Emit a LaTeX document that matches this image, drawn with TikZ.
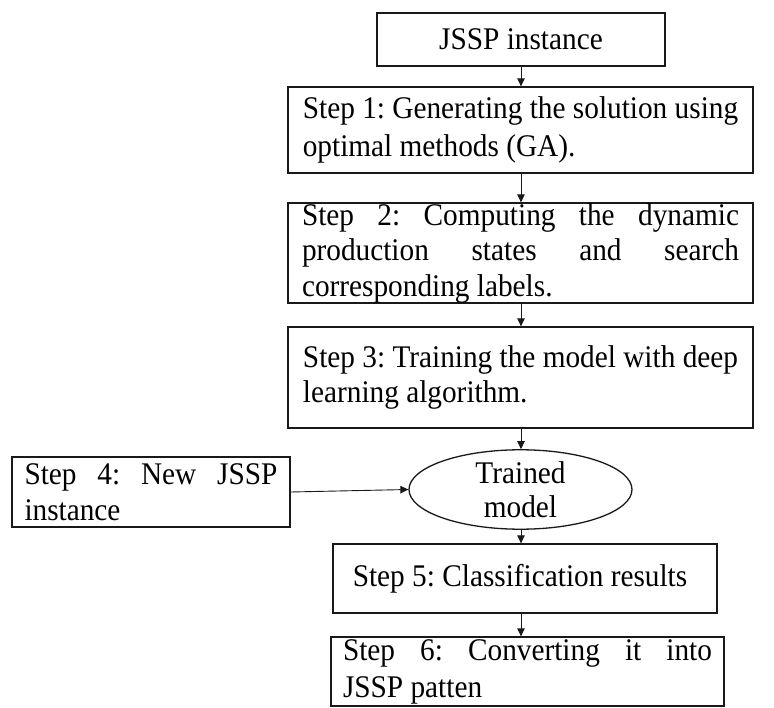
\documentclass[tikz,border=0pt]{standalone}
\usepackage{fontspec}
\setmainfont[FakeStretch=0.93]{Liberation Serif}
\usetikzlibrary{arrows.meta,shapes.geometric}
\frenchspacing
\begin{document}
\begin{tikzpicture}[x=1pt,y=1pt,
  box/.style={draw=black!90, line width=1.3pt, inner xsep=0pt, inner ysep=0pt,
    font=\fontsize{31.5}{36}\selectfont},
  arr/.style={draw=black!90, line width=0.9pt, -{Triangle[length=8pt,width=7.5pt]}}]
\useasboundingbox (0,0) rectangle (774,-708);
\fill[white] (0,0) rectangle (774,-708);
\coordinate (X) at (521,0);

\node[box, minimum width=288, minimum height=53] (jssp) at (521,-39.5) {JSSP instance};

\node[box, minimum width=465, minimum height=86, align=left,
  font=\fontsize{31.5}{38}\selectfont] (s1) at (520.5,-130)
  {Step 1: Generating the solution using\\optimal methods (GA).};

\node[box, minimum width=465, minimum height=100, align=left,
  font=\fontsize{31.5}{35.5}\selectfont] (s2) at (520.5,-253)
  {\makebox[437pt][s]{Step 2: Computing the dynamic}\\
   \makebox[437pt][s]{production states and search}\\
   corresponding labels.};

\node[box, minimum width=465, minimum height=101, align=left,
  font=\fontsize{31.5}{35}\selectfont] (s3) at (520.5,-377.5)
  {Step 3: Training the model with deep\\learning algorithm.};

\node[box, ellipse, minimum width=223, minimum height=73,
  font=\fontsize{31.5}{34}\selectfont, align=center] (ell) at (520.5,-489.5)
  {Trained\\model};

\node[box, minimum width=278, minimum height=70, align=left] (s4) at (151,-492)
  {\makebox[253pt][s]{Step 4: New JSSP}\\instance};

\node[box, minimum width=384, minimum height=69] (s5) at (525,-578.5)
  {\hspace*{-10pt}Step 5: Classification results};

\node[box, minimum width=393, minimum height=69, align=left,
  font=\fontsize{31.5}{37}\selectfont] (s6) at (527.5,-671.5)
  {\makebox[369pt][s]{Step 6: Converting it into}\\JSSP patten};

\draw[arr] (jssp.south -| X) -- (s1.north -| X);
\draw[arr] (s1.south -| X) -- (s2.north -| X);
\draw[arr] (s2.south -| X) -- (s3.north -| X);
\draw[arr] (s3.south -| X) -- (ell.north -| X);
\draw[arr] (ell.south -| X) -- (s5.north -| X);
\draw[arr] (s5.south -| X) -- (s6.north -| X);
\draw[arr] (s4.east) -- (ell.west);
\end{tikzpicture}
\end{document}
